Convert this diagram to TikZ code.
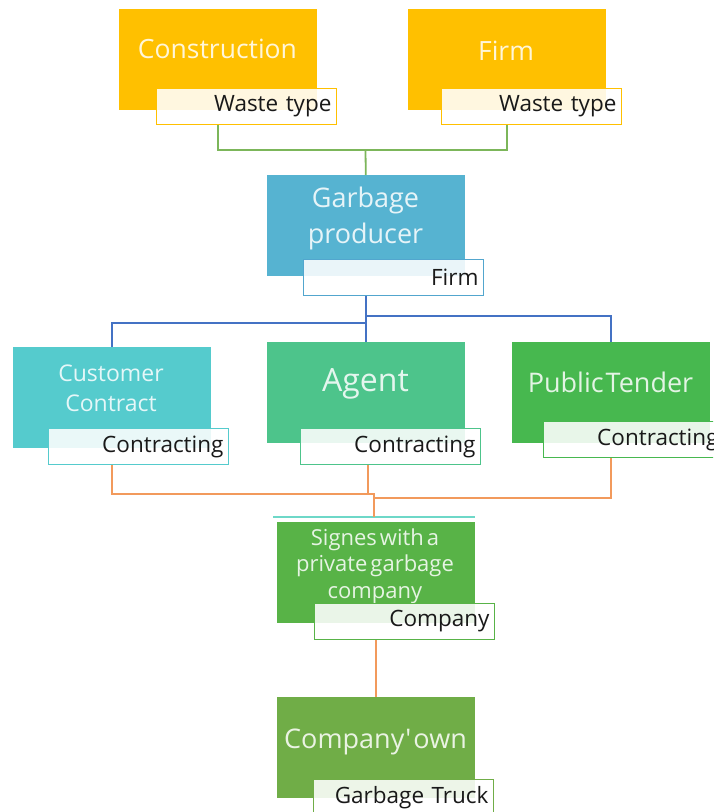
\documentclass[tikz,border=0pt]{standalone}
\usepackage{fontspec}
\setmainfont{Open Sans}[Ligatures=TeXOff]
\definecolor{gold}{HTML}{FFC000}
\definecolor{aqua}{HTML}{56B3D1}
\definecolor{tealbox}{HTML}{55CBCD}
\definecolor{agentgreen}{HTML}{4DC48B}
\definecolor{tendergreen}{HTML}{47B84F}
\definecolor{signgreen}{HTML}{58B347}
\definecolor{owngreen}{HTML}{70AD47}
\definecolor{linkgreen}{HTML}{7CB65A}
\definecolor{linkblue}{HTML}{4472C4}
\definecolor{linkorange}{HTML}{F29A5C}
\definecolor{tealrule}{HTML}{6ED8C8}
\begin{document}
\begin{tikzpicture}[x=1pt,y=-1pt,
  box/.style={fill=#1, draw=#1, line width=0.6pt, anchor=north west,
    minimum width=197pt, minimum height=100pt, inner sep=0pt},
  tag/.style={draw=#1, line width=1pt, fill=white, fill opacity=0.88,
    text opacity=1, text=black!90, anchor=north west,
    minimum height=36pt, text width=170pt, inner xsep=5pt, inner ysep=0pt,
    align=right, font=\fontsize{22.5}{26}\selectfont},
  title/.style={text=white!85!#1, align=center, inner sep=0pt},
  link/.style={draw=#1, line width=1.8pt}
]
\useasboundingbox (0,0) rectangle (713,812);
\clip (0,0) rectangle (713,812);

% top row: waste sources
\node[box=gold] (cons) at (119,9) {};
\node[title=gold, font=\fontsize{26.5}{30}\selectfont] (consT) at (217.5,49) {Construction};
\node[tag=gold] (consL) at (156,88) {Waste type};

\node[box=gold] (firm) at (408,9) {};
\node[title=gold, font=\fontsize{26.5}{30}\selectfont] (firmT) at (506,51) {Firm};
\node[tag=gold] (firmL) at (441,88) {Waste type};

% producer
\node[box=aqua] (prod) at (267,175) {};
\node[title=aqua, font=\fontsize{27}{36}\selectfont] (prodT) at (365.5,218) {Garbage\\producer};
\node[tag={aqua!80!linkblue}] (prodL) at (303,259) {Firm};

% contracting routes
\node[box=tealbox] (cust) at (13,347) {};
\node[title=tealbox, font=\fontsize{23}{30}\selectfont] (custT) at (111,388) {Customer\\Contract};
\node[tag=tealbox] (custL) at (48,428) {Contracting};

\node[box=agentgreen] (agent) at (267,342) {};
\node[title=agentgreen, font=\fontsize{32}{36}\selectfont] (agentT) at (365.5,384) {Agent};
\node[tag=agentgreen] (agentL) at (300,428) {Contracting};

\node[box=tendergreen] (tender) at (512,342) {};
\node[title=tendergreen, font=\fontsize{27}{30}\selectfont] (tenderT) at (610.5,382) {Public\hspace{2pt}Tender};
\node[tag=tendergreen] (tenderL) at (543,421) {Contracting};

% company
\node[box=signgreen] (sign) at (277,522) {};
\node[title=signgreen, font=\fontsize{22}{26.5}\selectfont] (signT) at (375,566)
  {Signes\hspace{3pt}with\hspace{3pt}a\\private\hspace{3pt}garbage\\company};
\node[tag=signgreen] (signL) at (314,603) {Company};
\draw[tealrule, line width=1.6pt] ([xshift=-4pt,yshift=5pt]sign.north west) -- ([yshift=5pt]sign.north east);

\node[box=owngreen] (own) at (277,697) {};
\node[title=owngreen, font=\fontsize{27}{30}\selectfont] (ownT) at (375.5,742) {Company'\hspace{2pt}own};
\node[tag=owngreen] (ownL) at (313,779) {Garbage Truck};

% junction points
\coordinate (jg) at (365.5,150);
\coordinate (jbR) at (365.5,316);
\coordinate (jbL) at (365.5,323);
\coordinate (joL) at (368,494);
\coordinate (joS) at (374,494);
\coordinate (joR) at (374,498);

% connectors
\draw[link=linkgreen] (consL.south -| cons.south) |- (jg) -| (firmL.south -| firm.south);
\draw[link=linkgreen] (jg) -- (prod.north);

\draw[link=linkblue] (prodL.south -| prod.south) -- (agent.north);
\draw[link=linkblue] (jbR) -| (tender.north);
\draw[link=linkblue] (jbL) -| (cust.north);

\draw[link=linkorange] (custL.south -| cust.south) |- (joL);
\draw[link=linkorange] (agentL.south -| joL) -- (joL) -- (joS) -- ([yshift=5pt]joS |- sign.north);
\draw[link=linkorange] (tenderL.south -| tender.south) |- (joR);
\draw[link=linkorange] (signL.south -| own.north) -- (own.north);
\end{tikzpicture}
\end{document}
